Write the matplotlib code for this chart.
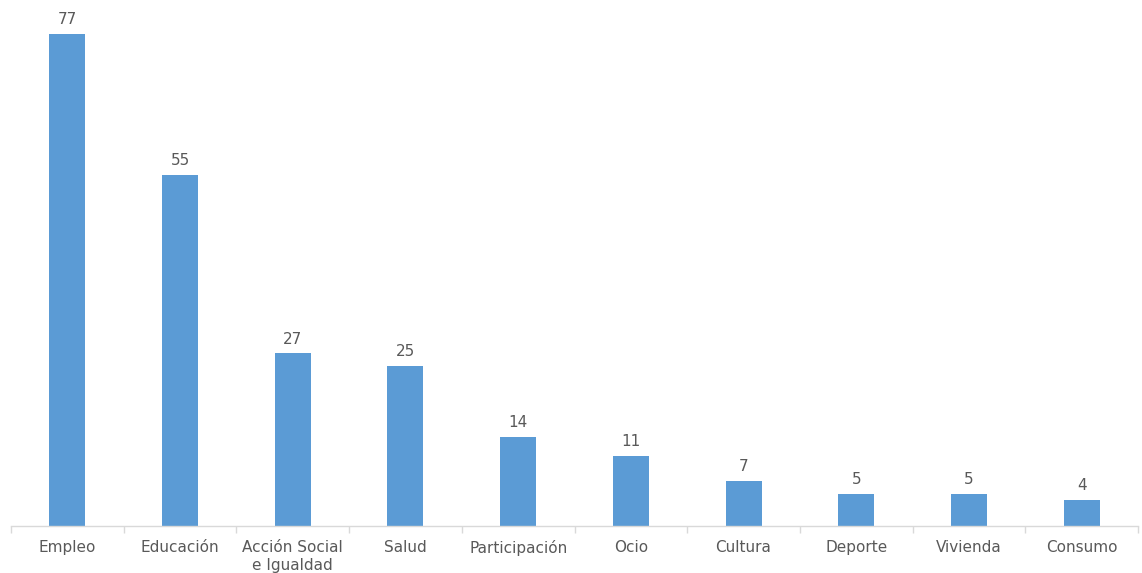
import numpy as np
import matplotlib.pyplot as plt

# data
categories = ['Empleo', 'Educación', 'Acción Social\ne Igualdad', 'Salud',
              'Participación', 'Ocio', 'Cultura', 'Deporte', 'Vivienda', 'Consumo']
values = [77, 55, 27, 25, 14, 11, 7, 5, 5, 4]

BAR_COLOR = '#5B9BD5'
TEXT_COLOR = '#595959'
AXIS_COLOR = '#D9D9D9'

W, H = 1142, 573
fig = plt.figure(figsize=(W / 100, H / 100), dpi=100)
ax = fig.add_axes([11 / W, (H - 526) / H, (1138 - 11) / W, (526 - 10) / H])

x = np.arange(len(categories))
ax.bar(x, values, width=0.32, color=BAR_COLOR, zorder=2)

for xi, v in zip(x, values):
    ax.annotate(str(v), (xi, v), xytext=(0, 5), textcoords='offset points',
                ha='center', va='bottom', fontsize=11, color=TEXT_COLOR)

ax.set_xlim(-0.5, len(categories) - 0.5)
ax.set_ylim(0, 77 + 24 / 6.39)

ax.set_xticks(x)
ax.set_xticklabels(categories, fontsize=11, color=TEXT_COLOR, linespacing=1.3)
ax.tick_params(axis='x', length=0, pad=10)
ax.set_xticks(np.arange(len(categories) + 1) - 0.5, minor=True)
ax.tick_params(axis='x', which='minor', length=5, color=AXIS_COLOR, width=1)
ax.set_yticks([])

for side in ['top', 'right', 'left']:
    ax.spines[side].set_visible(False)
ax.spines['bottom'].set_color(AXIS_COLOR)
ax.spines['bottom'].set_linewidth(1)

fig.savefig('out.png', dpi=100)
